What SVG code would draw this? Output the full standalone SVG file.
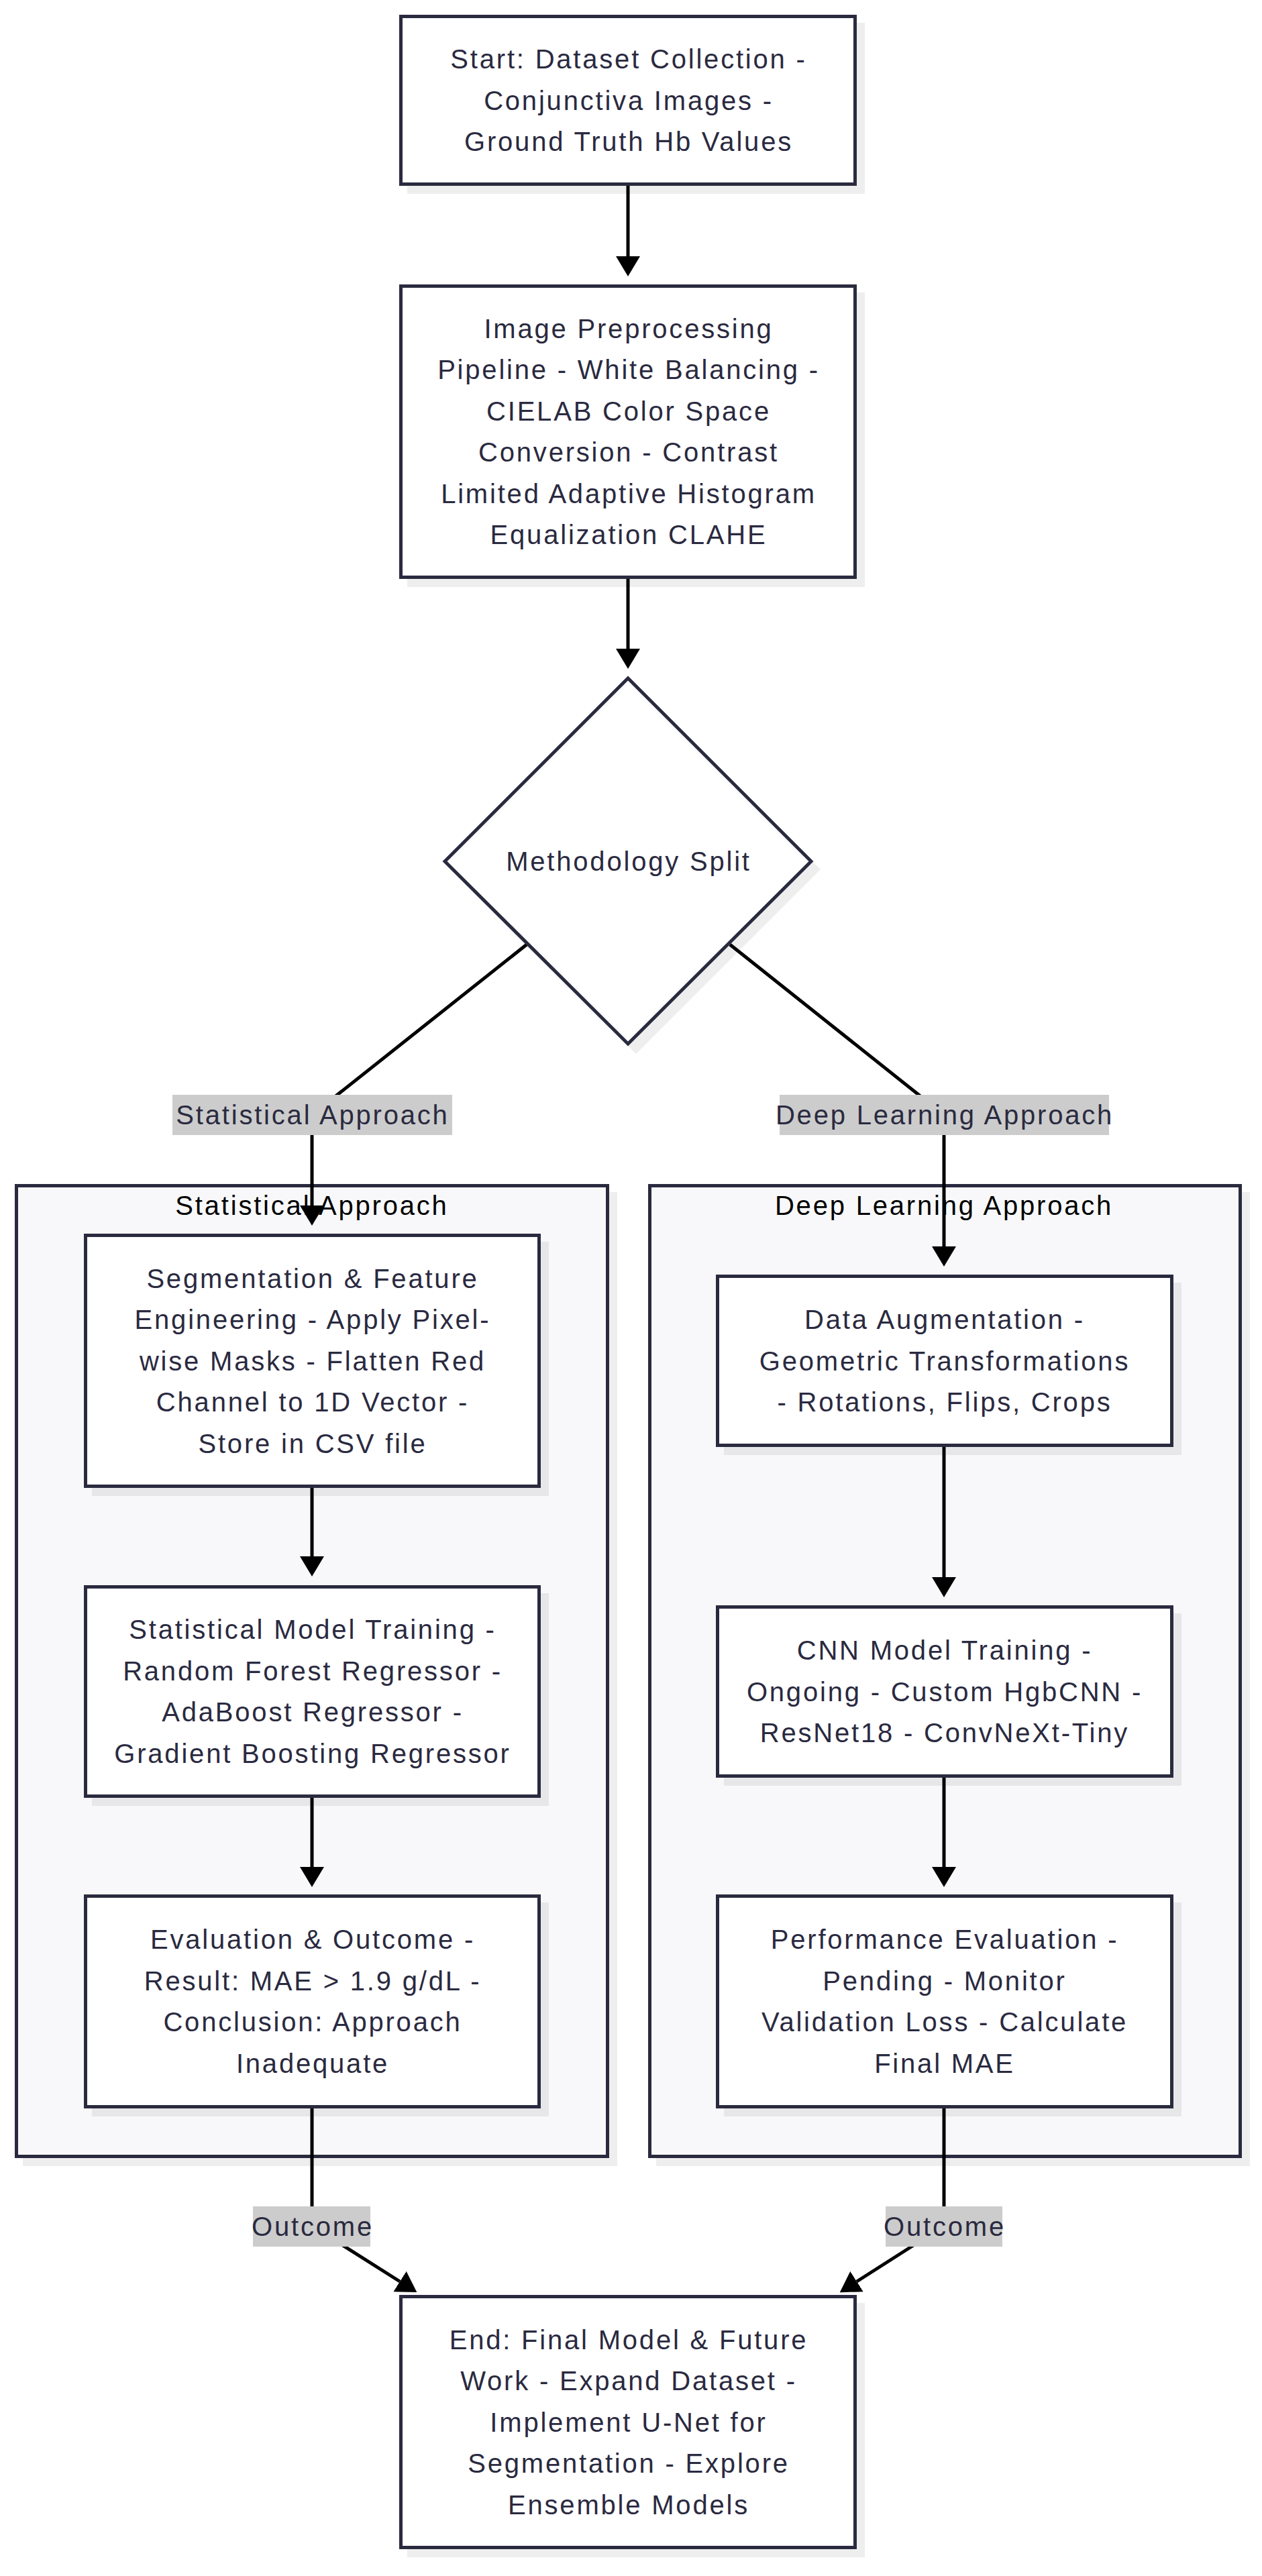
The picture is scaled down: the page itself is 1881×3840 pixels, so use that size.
<svg xmlns="http://www.w3.org/2000/svg" width="1881" height="3840" viewBox="0 0 1881 3840">
<defs>
<style>
.node rect.b, .node polygon.b { fill:#ffffff; stroke:#2a2a3f; stroke-width:5; }
.shadow { fill:#000000; fill-opacity:0.065; }
.cluster rect.c { fill:#f8f8fa; stroke:#2a2a3f; stroke-width:5; }
.t { font-family:"Liberation Sans", Arial, sans-serif; font-size:40px; letter-spacing:2.8px; fill:#2a2a40; text-anchor:middle; }
.ct { font-family:"Liberation Sans", Arial, sans-serif; font-size:40px; letter-spacing:2.8px; fill:#000000; text-anchor:middle; }
.edge { fill:none; stroke:#000000; stroke-width:5; }
.lbl { fill:#cccccc; }
</style>
<marker id="arr" markerUnits="userSpaceOnUse" viewBox="0 0 30 36" markerWidth="30" markerHeight="36" refX="0" refY="18" orient="auto">
<path d="M0,0 L30,18 L0,36 z" fill="#000000"/>
</marker>
</defs>
<rect width="1881" height="3840" fill="#ffffff"/>

<g id="clusters">
<g id="cluster-statistical" class="cluster">
<rect class="shadow" x="34" y="1777" width="886" height="1452"/>
<rect class="c" x="24.5" y="1767.5" width="881" height="1447"/>
<text class="ct" x="465" y="1811">Statistical Approach</text>
</g>
<g id="cluster-deep" class="cluster">
<rect class="shadow" x="978" y="1777" width="885" height="1452"/>
<rect class="c" x="968.5" y="1767.5" width="880" height="1447"/>
<text class="ct" x="1407" y="1811">Deep Learning Approach</text>
</g>
</g>

<g id="connectors">
<path class="edge" d="M936 277 L936 382" marker-end="url(#arr)"/>
<path class="edge" d="M936 863 L936 967" marker-end="url(#arr)"/>
<path class="edge" d="M785 1408 L465 1662 L465 1797" marker-end="url(#arr)"/>
<path class="edge" d="M1088 1408 L1407 1662 L1407 1858" marker-end="url(#arr)"/>
<path class="edge" d="M465 2218 L465 2320" marker-end="url(#arr)"/>
<path class="edge" d="M465 2680 L465 2783" marker-end="url(#arr)"/>
<path class="edge" d="M1407 2157 L1407 2351" marker-end="url(#arr)"/>
<path class="edge" d="M1407 2650 L1407 2783" marker-end="url(#arr)"/>
<path class="edge" d="M465 3143 L465 3318 L596 3401" marker-end="url(#arr)"/>
<path class="edge" d="M1407 3143 L1407 3318 L1277 3401" marker-end="url(#arr)"/>
<g id="edge-labels">
<rect class="lbl" x="257" y="1632" width="417" height="60"/>
<text class="t" x="466" y="1676">Statistical Approach</text>
<rect class="lbl" x="1162" y="1632" width="491" height="60"/>
<text class="t" x="1408" y="1676">Deep Learning Approach</text>
<rect class="lbl" x="377" y="3289" width="175" height="60"/>
<text class="t" x="466" y="3333">Outcome</text>
<rect class="lbl" x="1320" y="3289" width="174" height="60"/>
<text class="t" x="1408" y="3333">Outcome</text>
</g>
</g>

<g id="node-start" class="node">
<rect class="shadow" x="607" y="34" width="682" height="255"/>
<rect class="b" x="597.5" y="24.5" width="677" height="250"/>
<text class="t" x="937" y="102">Start: Dataset Collection -</text>
<text class="t" x="937" y="163.5">Conjunctiva Images -</text>
<text class="t" x="937" y="225">Ground Truth Hb Values</text>
</g>

<g id="node-preprocess" class="node">
<rect class="shadow" x="607" y="436" width="682" height="439"/>
<rect class="b" x="597.5" y="426.5" width="677" height="434"/>
<text class="t" x="937" y="503.75">Image Preprocessing</text>
<text class="t" x="937" y="565.25">Pipeline - White Balancing -</text>
<text class="t" x="937" y="626.75">CIELAB Color Space</text>
<text class="t" x="937" y="688.25">Conversion - Contrast</text>
<text class="t" x="937" y="749.75">Limited Adaptive Histogram</text>
<text class="t" x="937" y="811.25">Equalization CLAHE</text>
</g>

<g id="node-split" class="node">
<polygon class="shadow" points="948,1021 1223,1296 948,1571 673,1296"/>
<polygon class="b" points="936,1011 1209,1284 936,1556 663,1284"/>
<text class="t" x="937" y="1298">Methodology Split</text>
</g>

<g id="node-segmentation" class="node">
<rect class="shadow" x="137" y="1851" width="681" height="379"/>
<rect class="b" x="127.5" y="1841.5" width="676" height="374"/>
<text class="t" x="466" y="1919.5">Segmentation &amp; Feature</text>
<text class="t" x="466" y="1981">Engineering - Apply Pixel-</text>
<text class="t" x="466" y="2042.5">wise Masks - Flatten Red</text>
<text class="t" x="466" y="2104">Channel to 1D Vector -</text>
<text class="t" x="466" y="2165.5">Store in CSV file</text>
</g>

<g id="node-statmodel" class="node">
<rect class="shadow" x="137" y="2375" width="681" height="317"/>
<rect class="b" x="127.5" y="2365.5" width="676" height="312"/>
<text class="t" x="466" y="2443.25">Statistical Model Training -</text>
<text class="t" x="466" y="2504.75">Random Forest Regressor -</text>
<text class="t" x="466" y="2566.25">AdaBoost Regressor -</text>
<text class="t" x="466" y="2627.75">Gradient Boosting Regressor</text>
</g>

<g id="node-evaluation" class="node">
<rect class="shadow" x="137" y="2836" width="681" height="319"/>
<rect class="b" x="127.5" y="2826.5" width="676" height="314"/>
<text class="t" x="466" y="2905.25">Evaluation &amp; Outcome -</text>
<text class="t" x="466" y="2966.75">Result: MAE &gt; 1.9 g/dL -</text>
<text class="t" x="466" y="3028.25">Conclusion: Approach</text>
<text class="t" x="466" y="3089.75">Inadequate</text>
</g>

<g id="node-augmentation" class="node">
<rect class="shadow" x="1079" y="1912" width="682" height="257"/>
<rect class="b" x="1069.5" y="1902.5" width="677" height="252"/>
<text class="t" x="1408" y="1981">Data Augmentation -</text>
<text class="t" x="1408" y="2042.5">Geometric Transformations</text>
<text class="t" x="1408" y="2104">- Rotations, Flips, Crops</text>
</g>

<g id="node-cnn" class="node">
<rect class="shadow" x="1079" y="2405" width="682" height="257"/>
<rect class="b" x="1069.5" y="2395.5" width="677" height="252"/>
<text class="t" x="1408" y="2474">CNN Model Training -</text>
<text class="t" x="1408" y="2535.5">Ongoing - Custom HgbCNN -</text>
<text class="t" x="1408" y="2597">ResNet18 - ConvNeXt-Tiny</text>
</g>

<g id="node-performance" class="node">
<rect class="shadow" x="1079" y="2836" width="682" height="319"/>
<rect class="b" x="1069.5" y="2826.5" width="677" height="314"/>
<text class="t" x="1408" y="2905.25">Performance Evaluation -</text>
<text class="t" x="1408" y="2966.75">Pending - Monitor</text>
<text class="t" x="1408" y="3028.25">Validation Loss - Calculate</text>
<text class="t" x="1408" y="3089.75">Final MAE</text>
</g>

<g id="node-end" class="node">
<rect class="shadow" x="607" y="3433" width="682" height="379"/>
<rect class="b" x="597.5" y="3423.5" width="677" height="374"/>
<text class="t" x="937" y="3501.5">End: Final Model &amp; Future</text>
<text class="t" x="937" y="3563">Work - Expand Dataset -</text>
<text class="t" x="937" y="3624.5">Implement U-Net for</text>
<text class="t" x="937" y="3686">Segmentation - Explore</text>
<text class="t" x="937" y="3747.5">Ensemble Models</text>
</g>
</svg>
